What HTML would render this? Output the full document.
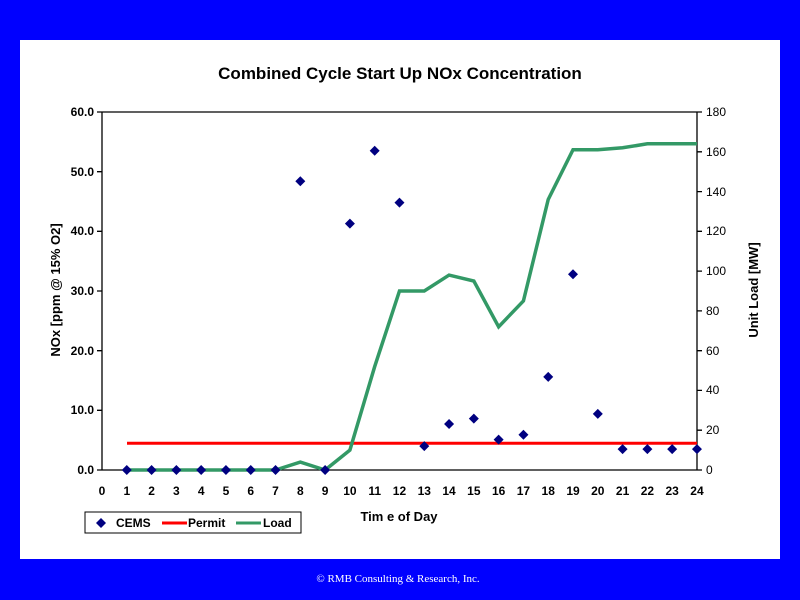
<!DOCTYPE html>
<html><head><meta charset="utf-8"><style>
body{margin:0;width:800px;height:600px;background:#0000ff;overflow:hidden}
svg{display:block}
</style></head><body>
<svg width="800" height="600" xmlns="http://www.w3.org/2000/svg" font-family="Liberation Sans, sans-serif">
<rect x="0" y="0" width="800" height="600" fill="#0000ff"/>
<rect x="20" y="40" width="760" height="519" fill="#fff"/>
<text x="400" y="79" text-anchor="middle" font-size="17" font-weight="bold">Combined Cycle Start Up NOx Concentration</text>
<g stroke="#000" stroke-width="1.3" fill="none">
<line x1="102" y1="112" x2="697" y2="112"/>
<line x1="102" y1="112" x2="102" y2="470"/>
<line x1="697" y1="112" x2="697" y2="470"/>
<line x1="97" y1="470" x2="702" y2="470"/>
<path d="M97 112H102M97 171.7H102M97 231.3H102M97 291H102M97 350.7H102M97 410.3H102"/>
<path d="M697 112H702M697 151.8H702M697 191.6H702M697 231.3H702M697 271.1H702M697 310.9H702M697 350.7H702M697 390.4H702M697 430.2H702"/>
</g>
<g font-size="12" font-weight="bold" text-anchor="end">
<text x="94" y="116">60.0</text><text x="94" y="176">50.0</text><text x="94" y="235">40.0</text><text x="94" y="295">30.0</text><text x="94" y="355">20.0</text><text x="94" y="414">10.0</text><text x="94" y="474">0.0</text>
</g>
<g font-size="12" text-anchor="start">
<text x="706" y="116">180</text><text x="706" y="156">160</text><text x="706" y="196">140</text><text x="706" y="235">120</text><text x="706" y="275">100</text><text x="706" y="315">80</text><text x="706" y="355">60</text><text x="706" y="394">40</text><text x="706" y="434">20</text><text x="706" y="474">0</text>
</g>
<g font-size="12" font-weight="bold" text-anchor="middle" id="xl"></g>
<text x="60" y="290" font-size="13" font-weight="bold" text-anchor="middle" transform="rotate(-90 60 290)">NOx  [ppm @ 15%  O2]</text>
<text x="758" y="290" font-size="13" font-weight="bold" text-anchor="middle" transform="rotate(-90 758 290)">Unit Load [MW]</text>
<text x="399" y="521" font-size="13" font-weight="bold" text-anchor="middle">Tim e  of Day</text>
<line x1="127" y1="443.2" x2="697" y2="443.2" stroke="#ff0000" stroke-width="3"/>
<polyline id="load" fill="none" stroke="#339966" stroke-width="3.5" points=""/>
<g id="pts" fill="#000080"></g>
<rect x="85" y="512" width="216" height="21" fill="#fff" stroke="#000" stroke-width="1"/>
<path d="M101 518l5 5-5 5-5-5z" fill="#000080"/>
<text x="116" y="527" font-size="12" font-weight="bold">CEMS</text>
<line x1="162" y1="523" x2="187" y2="523" stroke="#ff0000" stroke-width="3"/>
<text x="188" y="527" font-size="12" font-weight="bold">Permit</text>
<line x1="236" y1="523" x2="261" y2="523" stroke="#339966" stroke-width="3"/>
<text x="263" y="527" font-size="12" font-weight="bold">Load</text>
<text x="398" y="582" font-size="11" fill="#fff" text-anchor="middle" font-family="Liberation Serif, serif">© RMB Consulting &amp; Research, Inc.</text>
</svg>
<script>
var X=h=>102+h*24.79;
var xl=document.getElementById('xl'),s='';
for(var i=0;i<=24;i++)s+='<text x="'+X(i)+'" y="495">'+i+'</text>';
xl.innerHTML=s;
var L=[0,0,0,0,0,0,0,4,0,10,52,90,90,98,95,72,85,136,161,161,162,164,164,164];
document.getElementById('load').setAttribute('points',L.map((v,i)=>X(i+1)+','+(470-v*1.989)).join(' '));
var C=[0,0,0,0,0,0,0,48.4,0,41.3,53.5,44.8,4,7.7,8.6,5.1,5.9,15.6,32.8,9.4,3.5,3.5,3.5,3.5];
var p='';C.forEach((v,i)=>{var x=X(i+1),y=470-v*5.967;p+='<path d="M'+x+' '+(y-5)+'l5 5-5 5-5-5z"/>';});
document.getElementById('pts').innerHTML=p;
</script>
</body></html>
